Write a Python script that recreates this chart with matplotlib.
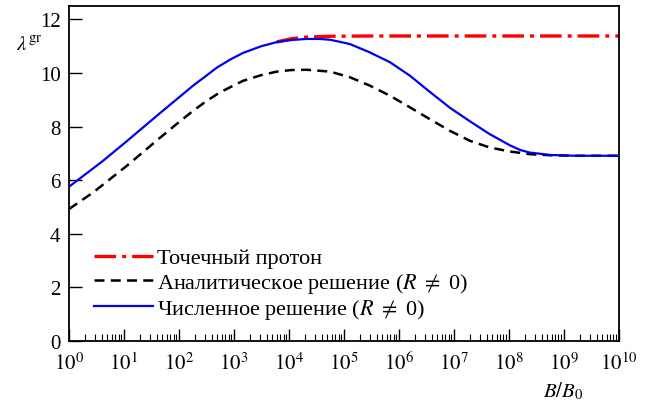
import matplotlib.pyplot as plt
import matplotlib.ticker as mticker
import numpy as np

plt.rcParams['font.family'] = ['Liberation Serif', 'DejaVu Serif']
plt.rcParams['mathtext.fontset'] = 'stix'

# log10(B/B0) and lambda values
lg_num = [0, 0.3, 0.62, 1.05, 1.35, 1.65, 1.95, 2.26, 2.5, 2.69, 2.95, 3.17, 3.5, 3.78,
          4.05, 4.32, 4.55, 4.75, 5.11, 5.47, 5.84, 6.2, 6.56, 6.93, 7.29, 7.65, 8.02,
          8.2, 8.38, 8.75, 9.2, 10]
lam_num = [5.75, 6.22, 6.72, 7.45, 7.97, 8.49, 9.0, 9.53, 9.9, 10.2, 10.52, 10.75, 11.0, 11.15,
           11.23, 11.27, 11.27, 11.24, 11.08, 10.77, 10.40, 9.90, 9.30, 8.70, 8.20, 7.72, 7.30,
           7.13, 7.03, 6.94, 6.91, 6.91]

lg_an = [0, 0.44, 1.05, 1.35, 1.65, 1.95, 2.26, 2.5, 2.75, 3.17, 3.5, 3.78, 4.05, 4.32,
         4.75, 5.11, 5.47, 5.84, 6.2, 6.56, 6.93, 7.29, 7.65, 8.02, 8.38, 8.75, 9.2, 10]
lam_an = [4.92, 5.54, 6.53, 7.05, 7.57, 8.08, 8.59, 8.95, 9.28, 9.71, 9.92, 10.05, 10.11, 10.12,
          10.05, 9.84, 9.53, 9.15, 8.72, 8.28, 7.84, 7.47, 7.22, 7.07, 6.97, 6.93, 6.91, 6.91]

lg_pt = [3.78, 4.05, 4.32, 4.75, 5.5, 7, 10]
lam_pt = [11.16, 11.28, 11.34, 11.37, 11.38, 11.38, 11.38]

fig = plt.figure(figsize=(6.5, 4.1), dpi=100)
ax = fig.add_axes([0.106, 0.166, 0.846, 0.817])

ax.plot(10.0 ** np.array(lg_pt), lam_pt, color='red', lw=2.4,
        dashes=(6.5, 1.8, 1.2, 1.8), label='Точечный протон', zorder=2)
ax.plot(10.0 ** np.array(lg_an), lam_an, color='black', lw=1.8,
        dashes=(4, 2.5), label=r'Аналитическое решение ($R$ $\neq$ 0)', zorder=3)
ax.plot(10.0 ** np.array(lg_num), lam_num, color='#0000ee', lw=1.6,
        label=r'Численное решение ($R$ $\neq$ 0)', zorder=4)

ax.set_xscale('log')
ax.set_xlim(1, 1e10)
ax.set_ylim(0, 12.5)
ax.set_xticks([10.0 ** k for k in range(11)])
ax.set_xticklabels([r'$10^{%d}$' % k for k in range(11)])
ax.set_yticks([0, 2, 4, 6, 8, 10, 12])
ax.xaxis.set_minor_locator(mticker.LogLocator(base=10, subs=np.arange(2, 10), numticks=100))
ax.xaxis.set_minor_formatter(mticker.NullFormatter())
ax.tick_params(which='major', direction='in', length=9, width=1, labelsize=15, pad=8)
ax.tick_params(which='minor', direction='in', length=5, width=0.8)
ax.tick_params(axis='y', pad=6)
for s in ax.spines.values():
    s.set_linewidth(1.3)

fig.text(0.025, 0.875, r'$\lambda^{\mathrm{gr}}$', fontsize=15)
fig.text(0.835, 0.03, r'$B/B_0$', fontsize=15)

ax.legend(loc='lower left', bbox_to_anchor=(0.045, 0.06), frameon=False, fontsize=16,
          handlelength=2.65, handletextpad=0.2, labelspacing=0.1, borderaxespad=0,
          borderpad=0)

fig.savefig('out.png', dpi=100)
